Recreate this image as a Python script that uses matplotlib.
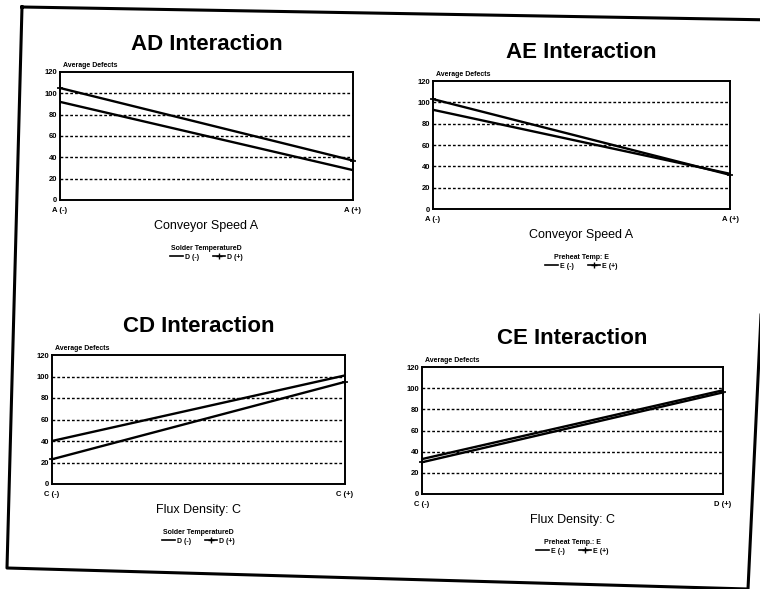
import matplotlib.pyplot as plt
from matplotlib.lines import Line2D

plt.rcParams['font.family'] = ['Liberation Sans', 'DejaVu Sans']

# уровни фактора по оси X (две точки: низкий / высокий)
x_levels = [0, 1]
y_ticks = [0, 20, 40, 60, 80, 100, 120]

# средние дефекты
ad_minus = [92, 28]
ad_plus = [105, 37]
ae_minus = [93, 33]
ae_plus = [103, 32]
cd_minus = [40, 101]
cd_plus = [23, 95]
ce_minus = [33, 98]
ce_plus = [30, 96]

titles = ["AD Interaction", "AE Interaction", "CD Interaction", "CE Interaction"]
xlabels = ["Conveyor Speed A", "Conveyor Speed A", "Flux Density: C", "Flux Density: C"]
xtick_labels = [["A (-)", "A (+)"], ["A (-)", "A (+)"], ["C (-)", "C (+)"], ["C (-)", "D (+)"]]
legend_titles = ["Solder TemperatureD", "Preheat Temp: E", "Solder TemperatureD", "Preheat Temp.: E"]
legend_labels = [["D (-)", "D (+)"], ["E (-)", "E (+)"], ["D (-)", "D (+)"], ["E (-)", "E (+)"]]
series = [(ad_minus, ad_plus), (ae_minus, ae_plus), (cd_minus, cd_plus), (ce_minus, ce_plus)]

W, H = 760, 589
fig = plt.figure(figsize=(7.6, 5.89), dpi=100)

# прямоугольники осей в пикселях: left, right, top, bottom
boxes = [(60, 353, 72, 200), (433, 730, 81, 209), (52, 345, 355, 484), (422, 723, 367, 494)]


def fx(px):
    return px / W


def fy(py):
    return 1 - py / H


for i, (l, r, t, b) in enumerate(boxes):
    ax = fig.add_axes([fx(l), fy(b), (r - l) / W, (b - t) / H])
    lo, hi = series[i]
    ax.plot(x_levels, lo, color='black', lw=1.7)
    ax.plot(x_levels, hi, color='black', lw=1.7, marker='+', ms=5, mew=1.2, clip_on=False)
    for g in y_ticks[1:-1]:
        ax.axhline(g, color='black', lw=1.0, ls=(0, (2, 1.5)))
    ax.set_xlim(0, 1)
    ax.set_ylim(0, 120)
    ax.set_yticks(y_ticks)
    ax.set_yticklabels([str(v) for v in y_ticks], fontsize=5.5, fontweight='bold')
    ax.set_xticks(x_levels)
    ax.set_xticklabels(xtick_labels[i], fontsize=5.5, fontweight='bold')
    ax.tick_params(axis='y', length=0, pad=2)
    ax.tick_params(axis='x', length=0, pad=5)
    for s in ax.spines.values():
        s.set_linewidth(1.4)
    ax.text(0.01, 1.02, "Average Defects", transform=ax.transAxes,
            fontsize=5, fontweight='bold', va='bottom', ha='left')

    cx = (l + r) / 2
    fig.text(fx(cx), fy(t - 28), titles[i], fontsize=16, fontweight='bold',
             ha='center', va='center')
    fig.text(fx(cx), fy(b + 26), xlabels[i], fontsize=9, ha='center', va='center')

    handles = [Line2D([], [], color='black', lw=1.2),
               Line2D([], [], color='black', lw=1.2, marker='+', ms=4)]
    leg = fig.legend(handles, legend_labels[i], title=legend_titles[i], ncol=2,
                     loc='upper center', bbox_to_anchor=(fx(cx), fy(b + 42)),
                     frameon=False, fontsize=5, title_fontsize=5,
                     handlelength=1.8, handletextpad=0.3, columnspacing=2.0,
                     borderpad=0, labelspacing=0.2)
    leg.get_title().set_fontweight('bold')
    for txt in leg.get_texts():
        txt.set_fontweight('bold')

# рамка отсканированной страницы
frame_x = [22, 775, 748, 7, 22]
frame_y = [7, 20, 589, 568, 7]
fig.add_artist(Line2D([fx(v) for v in frame_x], [fy(v) for v in frame_y],
                      color='black', lw=2.2))

fig.savefig("out.png", dpi=100)
